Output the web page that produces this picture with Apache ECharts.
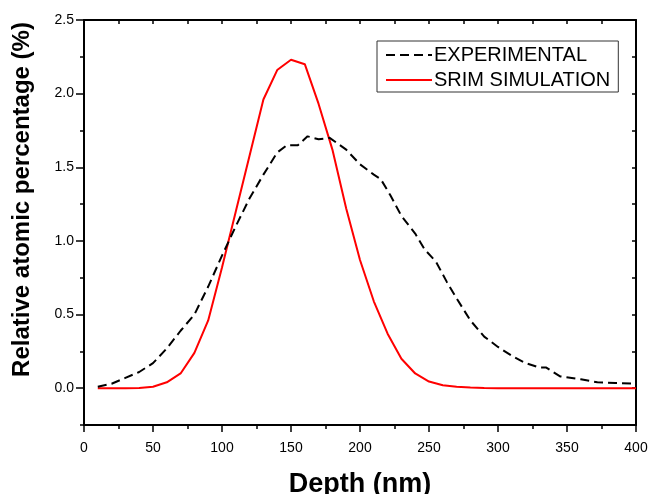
<!DOCTYPE html>
<html>
<head>
<meta charset="utf-8">
<script src="https://cdn.jsdelivr.net/npm/echarts@6/dist/echarts.min.js"></script>
<style>
html,body{margin:0;padding:0;background:#fff;}
#chart{width:649px;height:494px;}
</style>
</head>
<body>
<div id="chart"></div>
<script>
// Depth (nm) and relative atomic percentage (%)
var expDepths = [10,20,30,40,50,60,70,80,90,100,110,120,130,140,147,155,162,170,178,190,200,210,215,222,230,240,247,255,263,270,280,290,300,310,320,330,335,345,360,372,385,400];
var expValues = [0.01,0.03,0.07,0.11,0.17,0.27,0.39,0.50,0.69,0.90,1.10,1.29,1.45,1.60,1.65,1.65,1.71,1.69,1.70,1.62,1.52,1.45,1.42,1.31,1.17,1.05,0.94,0.86,0.72,0.61,0.46,0.35,0.28,0.22,0.17,0.14,0.14,0.08,0.06,0.04,0.035,0.03];
var srimDepths = [10,20,30,40,50,60,70,80,90,100,110,120,130,140,150,160,170,180,190,200,210,220,230,240,250,260,270,280,290,300,310,320,330,340,350,360,370,380,390,400];
var srimValues = [0,0,0,0.002,0.01,0.04,0.10,0.24,0.46,0.82,1.20,1.58,1.96,2.16,2.23,2.20,1.93,1.62,1.22,0.87,0.59,0.37,0.20,0.10,0.045,0.02,0.01,0.005,0.002,0,0,0,0,0,0,0,0,0,0,0];
var xTicks = [0,50,100,150,200,250,300,350,400];
var yTicks = [0,0.5,1.0,1.5,2.0,2.5];
var seriesNames = ['EXPERIMENTAL','SRIM SIMULATION'];

function pairs(xs, ys){ return xs.map(function(x,i){ return [x, ys[i]]; }); }

var FONT = "'Liberation Sans', Arial, sans-serif";
var chart = echarts.init(document.getElementById('chart'), null, {renderer:'canvas'});
var option = {
  animation: false,
  backgroundColor: '#fff',
  grid: {left: 84, right: 13, top: 20, bottom: 69, containLabel: false, outerBoundsMode: 'none'},
  legend: {
    orient: 'vertical', left: 377, top: 41,
    padding: [4, 8, 2, 8],
    itemGap: 5, itemWidth: 46, itemHeight: 14,
    borderColor: '#333', borderWidth: 1,
    itemStyle: {opacity: 0},
    textStyle: {fontFamily: FONT, fontSize: 20, color: '#000', padding: [0,0,0,-3]},
    data: seriesNames
  },
  xAxis: [{
    type: 'value', min: 0, max: 400, interval: 50, position: 'bottom',
    name: 'Depth (nm)', nameLocation: 'middle', nameGap: 46,
    nameTextStyle: {fontFamily: FONT, fontSize: 27, fontWeight: 'bold', color: '#000'},
    axisLine: {show: true, onZero: false, lineStyle: {color: '#000', width: 2}},
    axisTick: {show: true, inside: false, length: 7, lineStyle: {color: '#000', width: 1.5}},
    minorTick: {show: true, splitNumber: 2, length: 4, lineStyle: {color: '#000', width: 1.5}},
    axisLabel: {fontFamily: FONT, fontSize: 14, color: '#000', margin: 16,
      customValues: xTicks},
    splitLine: {show: false}
  }, {
    type: 'value', min: 0, max: 400, interval: 25, position: 'top',
    axisLine: {show: true, onZero: false, lineStyle: {color: '#000', width: 2}},
    axisTick: {show: true, inside: true, length: 4, lineStyle: {color: '#000', width: 1.5}},
    axisLabel: {show: false}, splitLine: {show: false}
  }],
  yAxis: [{
    type: 'value', min: -0.25, max: 2.5, interval: 0.25, position: 'left',
    name: 'Relative atomic percentage (%)', nameLocation: 'middle', nameGap: 50,
    nameTextStyle: {fontFamily: FONT, fontSize: 24, fontWeight: 'bold', color: '#000', padding: [0, 0, 0, 46]},
    axisLine: {show: true, onZero: false, lineStyle: {color: '#000', width: 2}},
    axisTick: {show: true, inside: false, length: 4, lineStyle: {color: '#000', width: 1.5}},
    axisLabel: {fontFamily: FONT, fontSize: 14, color: '#000', margin: 10,
      customValues: yTicks,
      formatter: function(v){ return v.toFixed(1); }},
    splitLine: {show: false}
  }, {
    type: 'value', min: -0.25, max: 2.5, interval: 0.25, position: 'left',
    axisLine: {show: false},
    axisTick: {show: true, inside: false, length: 8, customValues: yTicks, lineStyle: {color: '#000', width: 1.5}},
    axisLabel: {show: false}, splitLine: {show: false}
  }, {
    type: 'value', min: -0.25, max: 2.5, interval: 0.25, position: 'right',
    axisLine: {show: true, onZero: false, lineStyle: {color: '#000', width: 2}},
    axisTick: {show: true, inside: true, length: 4, lineStyle: {color: '#000', width: 1.5}},
    axisLabel: {show: false}, splitLine: {show: false}
  }],
  series: [{
    name: seriesNames[0], type: 'line', xAxisIndex: 0, yAxisIndex: 0,
    data: pairs(expDepths, expValues),
    symbol: 'none', smooth: false,
    lineStyle: {color: '#000', width: 2, type: [9, 5]},
    itemStyle: {color: '#000'},
    z: 3
  }, {
    name: seriesNames[1], type: 'line', xAxisIndex: 0, yAxisIndex: 0,
    data: pairs(srimDepths, srimValues),
    symbol: 'none', smooth: false,
    lineStyle: {color: '#ff0000', width: 2},
    itemStyle: {color: '#ff0000'},
    z: 2
  }]
};
chart.setOption(option);
</script>
</body>
</html>
